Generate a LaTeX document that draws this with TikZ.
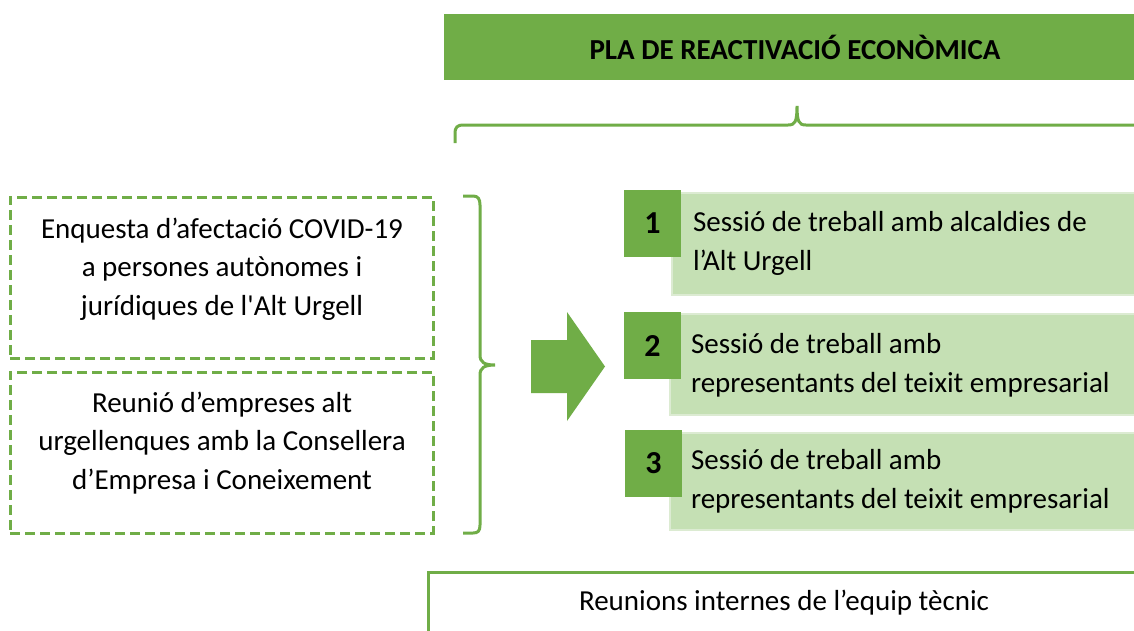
\documentclass[tikz,border=0pt]{standalone}
\usepackage{fontspec}
\setmainfont{Carlito}
\definecolor{green1}{HTML}{70AD47}
\definecolor{lightg}{HTML}{C5E0B4}
\definecolor{lightedge}{HTML}{DCEBD2}
\begin{document}
\begin{tikzpicture}[x=1pt,y=-1pt,
  plain/.style={inner sep=0pt,outer sep=0pt},
  titlebar/.style={plain,fill=green1,minimum width=700pt,minimum height=66pt,anchor=north west},
  dashbox/.style={plain,draw=green1,line width=3pt,dash pattern=on 10pt off 5pt,minimum width=423pt,minimum height=161pt,anchor=north west},
  lightbox/.style={plain,fill=lightg,draw=lightedge,line width=1.5pt,minimum width=480pt,anchor=north west},
  numbox/.style={plain,fill=green1,minimum width=57pt,minimum height=67pt,font=\bfseries\fontsize{32}{36}\selectfont},
  bodytext/.style={plain,font=\fontsize{29}{38.3}\selectfont},
  bracepath/.style={draw=green1,line width=3pt},
  teambox/.style={plain,draw=green1,line width=3pt,minimum width=760pt,minimum height=100pt,anchor=north west}]
\clip (0,0) rectangle (1134,630);
\fill[white] (0,0) rectangle (1134,630);
% title
\node[titlebar] (bar) at (444,14) {};
\node[plain,font=\bfseries\fontsize{29}{35}\selectfont] (title) at (795,47) {PLA DE REACTIVACIÓ ECONÒMICA};
% top brace
\draw[bracepath] (455,143) -- (455,134) .. controls (455,127) and (457,125) .. (464,125) -- (788,125)
  .. controls (795,125) and (797,122) .. (797,106)
  .. controls (797,122) and (799,125) .. (806,125) -- (1140,125);
% left dashed boxes
\node[dashbox] (b1) at (10,197) {};
\node[bodytext,anchor=base,align=center] (b1t) at (222,315) {Enquesta d’afectació COVID-19\\a persones autònomes i\\jurídiques de l\textquotesingle Alt Urgell};
\node[dashbox] (b2) at (10,372) {};
\node[bodytext,anchor=base,align=center] (b2t) at (222,489) {Reunió d’empreses alt\\urgellenques amb la Consellera\\d’Empresa i Coneixement};
% right brace
\draw[bracepath] (463,196) -- (473,196) .. controls (478,196) and (480,199) .. (480,205) -- (480,355)
  .. controls (480,362) and (484,365) .. (495,365)
  .. controls (484,365) and (480,368) .. (480,375) -- (480,525)
  .. controls (480,531) and (478,533) .. (473,533) -- (463,533);
% arrow
\fill[green1] (531,340) -- (567,340) -- (567,312) -- (605,366.5) -- (567,421) -- (567,393) -- (531,393) -- cycle;
% steps
\node[lightbox,minimum height=102pt] (r1) at (672,193) {};
\node[numbox] (n1) at (652.5,223.5) {1};
\node[bodytext,anchor=base west,align=left] (t1) at (693,270) {Sessió de treball amb alcaldies de\\l’Alt Urgell};
\node[lightbox,minimum height=101pt] (r2) at (670,314) {};
\node[numbox] (n2) at (652.5,345.5) {2};
\node[bodytext,anchor=base west,align=left] (t2) at (691,392) {Sessió de treball amb\\representants del teixit empresarial};
\node[lightbox,minimum height=97pt] (r3) at (670,433) {};
\node[numbox] (n3) at (653.5,463.5) {3};
\node[bodytext,anchor=base west,align=left] (t3) at (691,508) {Sessió de treball amb\\representants del teixit empresarial};
% bottom box
\node[teambox] (team) at (428,572) {};
\node[bodytext,anchor=base] (teamt) at (784,610) {Reunions internes de l’equip tècnic};
\end{tikzpicture}
\end{document}
